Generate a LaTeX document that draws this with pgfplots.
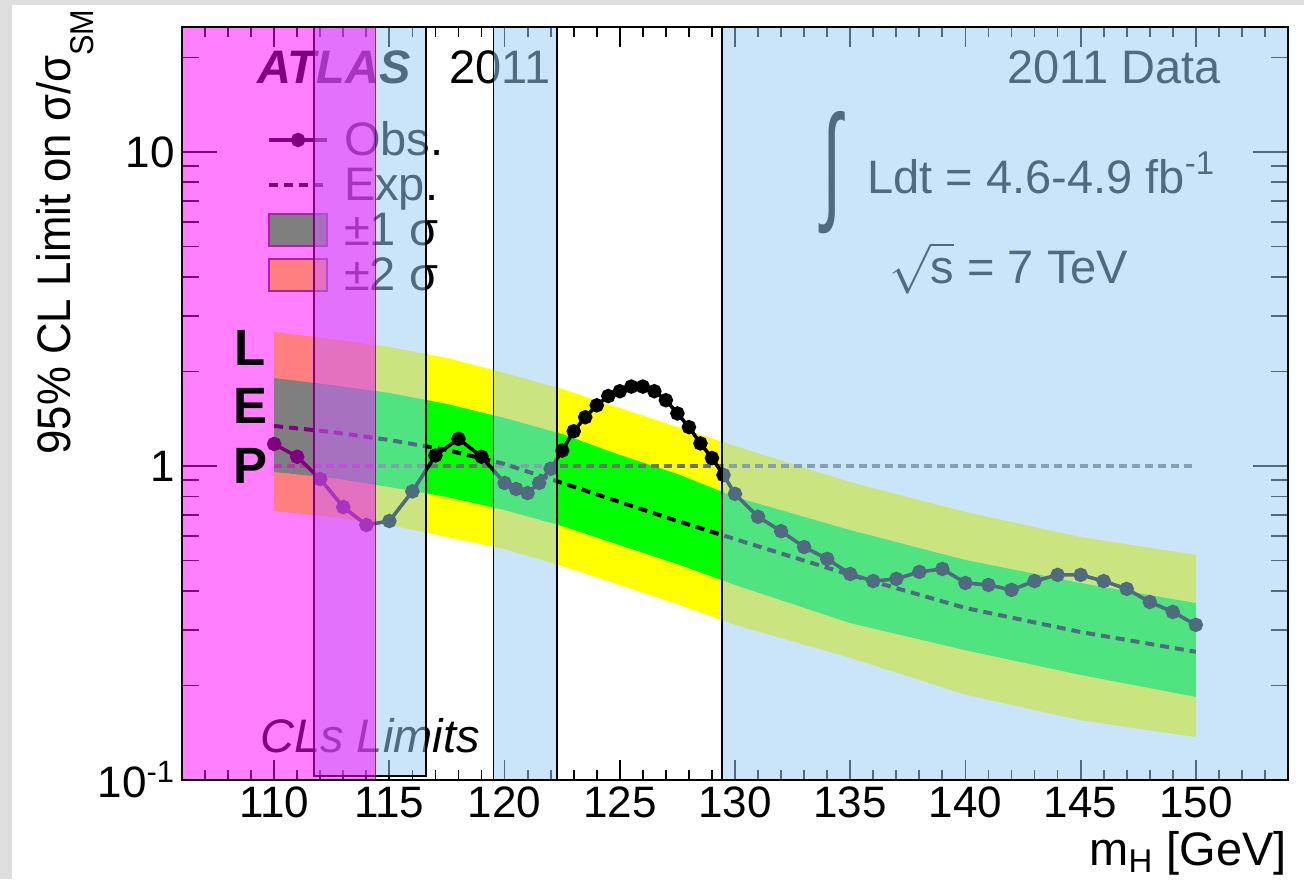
\documentclass[border=0pt]{standalone}
\usepackage{pgfplots}
\pgfplotsset{compat=1.18}
\usepackage{pgfplotstable}
\usepackage{fontspec}
\setmainfont{Liberation Sans}

\definecolor{bggray}{RGB}{222,222,222}
\definecolor{bandyellow}{RGB}{255,255,0}
\definecolor{bandgreen}{RGB}{0,255,0}
\definecolor{boxblue}{RGB}{154,204,246}
\definecolor{lepmag}{RGB}{255,0,255}
\definecolor{refgray}{RGB}{112,112,112}

\newcommand{\bigfont}{\fontsize{23.5}{27}\selectfont}
\newcommand{\tickfont}{\fontsize{22}{26}\selectfont}

% expected limit
\pgfplotstableread{
m     exp
110   1.341
112.5 1.283
115   1.210
117.5 1.124
120   1.015
122.5 0.883
125   0.768
127.5 0.668
130   0.585
135   0.450
140   0.353
145   0.296
150   0.256
}\expected

% outline of the +-2 sigma band: upper edge, then lower edge backwards
\pgfplotstableread{
m     v
110   2.672
112.5 2.538
115   2.393
117.5 2.208
120   1.978
122.5 1.759
125   1.530
127.5 1.331
130   1.158
135   0.889
140   0.714
145   0.594
150   0.521
150   0.137
145   0.155
140   0.187
135   0.245
130   0.312
127.5 0.363
125   0.418
122.5 0.480
120   0.544
117.5 0.594
115   0.649
112.5 0.688
110   0.719
}\twosigma

% outline of the +-1 sigma band
\pgfplotstableread{
m     v
110   1.906
112.5 1.811
115   1.708
117.5 1.576
120   1.422
122.5 1.264
125   1.084
127.5 0.943
130   0.797
135   0.625
140   0.502
145   0.424
150   0.366
150   0.184
145   0.216
140   0.259
135   0.316
130   0.418
127.5 0.487
125   0.560
122.5 0.644
120   0.724
117.5 0.797
115   0.857
112.5 0.916
110   0.957
}\onesigma

% observed limit
\pgfplotstableread{
m     lim
110   1.175
111   1.07
112   0.909
113   0.74
114   0.649
115   0.668
116   0.83
117   1.08
118   1.22
119   1.07
120   0.883
120.5 0.845
121   0.82
121.5 0.883
122   0.98
122.5 1.12
123   1.29
123.5 1.43
124   1.56
124.5 1.67
125   1.73
125.5 1.79
126   1.79
126.5 1.73
127   1.62
127.5 1.47
128   1.33
128.5 1.18
129   1.06
129.5 0.936
130   0.815
131   0.689
132   0.62
133   0.552
134   0.506
135   0.453
136   0.43
137   0.437
138   0.46
139   0.47
140   0.424
141   0.418
142   0.403
143   0.43
144   0.45
145   0.45
146   0.43
147   0.406
148   0.369
149   0.343
150   0.312
}\obs

\pgfplotsset{
  plotbox/.style={at={(91pt,49.5pt)}, anchor=south west, scale only axis,
    width=553pt, height=376.5pt, xmin=106, xmax=154, ymin=0.1, ymax=25},
  obsstyle/.style={black, line width=1.8pt, mark=*, mark size=2.7pt, mark options={solid}},
  expstyle/.style={black, line width=2pt, dash pattern=on 4.5pt off 3pt},
  linekey/.style={legend image code/.code={%
    \draw[mark repeat=2, mark phase=2, ##1] plot coordinates {(0pt,8pt) (14.5pt,8pt) (29pt,8pt)};}},
  onesigkey/.style={legend image code/.code={%
    \draw[fill=bandgreen, draw=black!70, line width=0.6pt] (0pt,0pt) rectangle (29pt,16pt);}},
  twosigkey/.style={legend image code/.code={%
    \draw[fill=bandyellow, draw=black!70, line width=0.6pt] (0pt,0pt) rectangle (29pt,16pt);}},
}

\begin{document}
\begin{tikzpicture}
\fill[bggray] (0,0) rectangle (652pt,439.5pt);
\fill[white] (6pt,0) rectangle (652pt,437pt);

% vertical ticks and their labels
\begin{axis}[ymode=log, plotbox, xtick=\empty, ytick={0.1,1,10},
  yticklabels={10\textsuperscript{-1},1,10},
  minor ytick={0.2,0.3,0.4,0.5,0.6,0.7,0.8,0.9,2,3,4,5,6,7,8,9,20},
  major tick length=17.5pt, minor tick length=8.5pt,
  tick style={black, line width=0.9pt},
  yticklabel style={font=\tickfont},
  axis line style={draw=none}]
\end{axis}

% limits, bands, labels and legend
\begin{axis}[ymode=log, plotbox, xtick={110,115,...,150}, minor xtick={107,108,...,153},
  ytick=\empty, major tick length=10pt, minor tick length=5pt,
  tick style={black, line width=0.9pt},
  xticklabel style={font=\tickfont},
  /pgf/number format/assume math mode=true,
  legend style={at={(0.0769,0.8792)}, anchor=north west, draw=none, fill=none,
    inner sep=0pt, outer sep=0pt, font=\bigfont, row sep=0pt,
    cells={anchor=base west, inner sep=0pt, text height=17pt, text depth=7pt},
    /tikz/every odd column/.append style={column sep=5.5pt}}]

\addplot[fill=bandyellow, draw=none, forget plot] table[x=m,y=v]{\twosigma} -- cycle;
\addplot[fill=bandgreen, draw=none, forget plot] table[x=m,y=v]{\onesigma} -- cycle;
\addplot[refgray, line width=1.7pt, dash pattern=on 3.7pt off 2.8pt, forget plot]
  coordinates {(110,1) (150,1)};
\addplot[expstyle, forget plot] table[x=m,y=exp]{\expected};
\addplot[obsstyle, forget plot] table[x=m,y=lim]{\obs};

\node[anchor=base west, inner sep=0pt, font=\bigfont\bfseries\itshape]
  at (rel axis cs:0.0678,0.9256) {ATLAS};
\node[anchor=base west, inner sep=0pt, font=\bigfont]
  at (rel axis cs:0.2414,0.9256) {2011};
\node[anchor=base east, inner sep=0pt, font=\bigfont]
  at (rel axis cs:0.9394,0.9256) {2011 Data};
\node[inner sep=0pt, font=\bigfont] at (rel axis cs:0.5880,0.8061)
  {\scalebox{1.5}[2.75]{∫}};
\node[anchor=base west, inner sep=0pt, font=\bigfont]
  at (rel axis cs:0.6193,0.7795) {Ldt = 4.6-4.9 fb\textsuperscript{-1}};
\node[anchor=base west, inner sep=0pt, font=\bigfont]
  at (rel axis cs:0.6392,0.66) {$\sqrt{\mbox{s}}$ = 7 TeV};
\node[anchor=base west, inner sep=0pt, font=\bigfont\itshape]
  at (rel axis cs:0.0705,0.0372) {CLs Limits};

\addlegendimage{obsstyle, linekey}
\addlegendentry{Obs.}
\addlegendimage{expstyle, linekey}
\addlegendentry{Exp.}
\addlegendimage{onesigkey}
\addlegendentry{±1 σ}
\addlegendimage{twosigkey}
\addlegendentry{±2 σ}
\end{axis}

% mass windows and the LEP exclusion drawn over the plot
\begin{axis}[ymode=log, plotbox, hide axis, clip=false]
\fill[boxblue, fill opacity=0.52] (axis cs:111.73,0.103) rectangle (axis cs:116.59,25);
\draw[black, line width=0.7pt] (axis cs:111.73,0.103) rectangle (axis cs:116.59,25);
\fill[boxblue, fill opacity=0.52] (axis cs:119.53,0.1) rectangle (axis cs:122.27,25);
\draw[black, line width=0.7pt] (axis cs:119.53,0.1) rectangle (axis cs:122.27,25);
\fill[boxblue, fill opacity=0.52] (axis cs:129.43,0.1) rectangle (axis cs:154,25);
\draw[black, line width=0.7pt] (axis cs:129.43,0.1) -- (axis cs:129.43,25);
\fill[lepmag, fill opacity=0.5] (axis cs:106,0.1) rectangle (axis cs:114.4,25);
\draw[black, draw opacity=0.5, line width=0.7pt] (axis cs:114.4,0.1) -- (axis cs:114.4,25);
\node[anchor=base, inner sep=0pt, font=\fontsize{25.5}{28}\selectfont\bfseries]
  at (rel axis cs:0.0615,0.5511) {L};
\node[anchor=base, inner sep=0pt, font=\fontsize{25.5}{28}\selectfont\bfseries]
  at (rel axis cs:0.0615,0.4728) {E};
\node[anchor=base, inner sep=0pt, font=\fontsize{25.5}{28}\selectfont\bfseries]
  at (rel axis cs:0.0615,0.3944) {P};
\draw[black, line width=1.3pt] (rel axis cs:0,0) rectangle (rel axis cs:1,1);
\end{axis}

\node[anchor=base east, inner sep=0pt, font=\bigfont] at (643.5pt,7pt) {m\textsubscript{H} [GeV]};
\node[rotate=90, anchor=base, inner sep=0pt, font=\fontsize{23.5}{27}\selectfont] at (35pt,323.5pt)
  {\scalebox{0.93}[1]{95\% CL Limit on σ/σ\raisebox{-0.5em}{\fontsize{16.5}{18}\selectfont SM}}};

\pgfresetboundingbox
\path[use as bounding box] (0,0) rectangle (652pt,439.5pt);
\end{tikzpicture}
\end{document}
